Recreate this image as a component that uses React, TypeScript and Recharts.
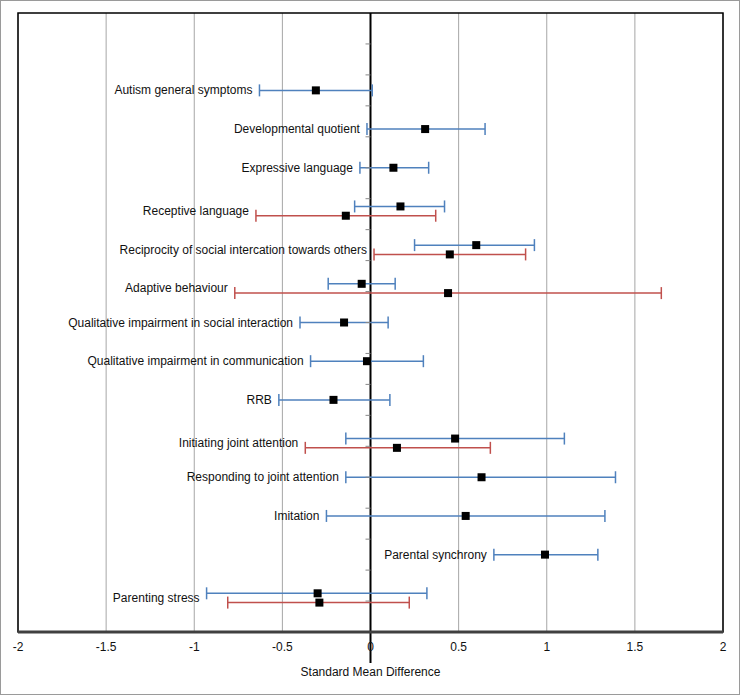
import React from 'react';
import {
  ComposedChart,
  Scatter,
  ErrorBar,
  XAxis,
  YAxis,
  CartesianGrid,
  ReferenceLine,
  ReferenceArea,
} from 'recharts';

// outcome rows, top to bottom
const categories = [
  'Autism general symptoms',
  'Developmental quotient',
  'Expressive language',
  'Receptive language',
  'Reciprocity of social intercation towards others',
  'Adaptive behaviour',
  'Qualitative impairment in social interaction',
  'Qualitative impairment in communication',
  'RRB',
  'Initiating joint attention',
  'Responding to joint attention',
  'Imitation',
  'Parental synchrony',
  'Parenting stress',
];

// blue series: SMD with lower / upper CI
const blueSmd = [-0.31, 0.31, 0.13, 0.17, 0.6, -0.05, -0.15, -0.02, -0.21, 0.48, 0.63, 0.54, 0.99, -0.3];
const blueLow = [-0.63, -0.02, -0.06, -0.09, 0.25, -0.24, -0.4, -0.34, -0.52, -0.14, -0.14, -0.25, 0.7, -0.93];
const blueHigh = [0.01, 0.65, 0.33, 0.42, 0.93, 0.14, 0.1, 0.3, 0.11, 1.1, 1.39, 1.33, 1.29, 0.32];

// red series (null where there is no estimate)
const redSmd = [null, null, null, -0.14, 0.45, 0.44, null, null, null, 0.15, null, null, null, -0.29];
const redLow = [null, null, null, -0.65, 0.02, -0.77, null, null, null, -0.37, null, null, null, -0.81];
const redHigh = [null, null, null, 0.37, 0.88, 1.65, null, null, null, 0.68, null, null, null, 0.22];

const xTicks = [-2, -1.5, -1, -0.5, 0, 0.5, 1, 1.5, 2];
const yMarks = [1, 2, 3, 4, 5, 6, 7, 8, 9, 10, 11, 12, 13, 14, 15, 16, 17, 18, 19];

const ROW_STEP = 1.25;
const RED_SHIFT = 0.3;
const rowY = (i: number) => (categories.length - i) * ROW_STEP;

const blueData = categories.map((name, i) => ({
  name,
  x: blueSmd[i],
  y: rowY(i),
  err: [blueSmd[i] - blueLow[i], blueHigh[i] - blueSmd[i]],
}));

const redData = categories
  .map((name, i) => ({ name, i }))
  .filter(({ i }) => redSmd[i] !== null)
  .map(({ name, i }) => ({
    name,
    x: redSmd[i] as number,
    y: rowY(i) - RED_SHIFT,
    err: [(redSmd[i] as number) - (redLow[i] as number), (redHigh[i] as number) - (redSmd[i] as number)],
  }));

const labelData = categories.map((name, i) => {
  const hasRed = redSmd[i] !== null;
  return {
    name,
    x: hasRed ? Math.min(blueLow[i], redLow[i] as number) : blueLow[i],
    y: hasRed ? rowY(i) - RED_SHIFT / 2 : rowY(i),
  };
});

const markData = yMarks.map((y) => ({ x: 0, y }));

const FONT = '"Liberation Sans", Arial, sans-serif';
const BLUE = '#4f81bd';
const RED = '#c0504d';

const SquareDot = (props: any) => (
  <rect x={props.cx - 4} y={props.cy - 4} width={8} height={8} fill="#000" />
);

const RowLabel = (props: any) => (
  <text
    x={props.cx - 7}
    y={props.cy}
    textAnchor="end"
    dominantBaseline="central"
    fontFamily={FONT}
    fontSize={12}
    fill="#111"
  >
    {props.payload.name}
  </text>
);

const AxisMark = (props: any) => (
  <line x1={props.cx - 5} x2={props.cx} y1={props.cy} y2={props.cy} stroke="#888" strokeWidth={1} />
);

export default function App() {
  return (
    <div style={{ position: 'absolute', left: 0, top: 0, width: 740, height: 695, background: '#fff' }}>
      <ComposedChart
        width={740}
        height={695}
        margin={{ top: 13, right: 17, left: 18, bottom: 0 }}
      >
        <CartesianGrid horizontal={false} stroke="#a6a6a6" strokeWidth={1} />
        <XAxis
          type="number"
          dataKey="x"
          domain={[-2, 2]}
          ticks={xTicks}
          allowDataOverflow
          height={63}
          tickSize={0}
          tickMargin={10}
          axisLine={{ stroke: '#404040', strokeWidth: 3 }}
          tick={{ fill: '#111', fontSize: 12, fontFamily: FONT }}
          label={{
            value: 'Standard Mean Difference',
            position: 'insideBottom',
            offset: 19,
            style: { fill: '#111', fontSize: 12, fontFamily: FONT },
          }}
        />
        <YAxis type="number" dataKey="y" domain={[0, 20]} hide allowDataOverflow />
        <ReferenceArea
          x1={-2}
          x2={2}
          y1={0}
          y2={20}
          fill="none"
          stroke="#000"
          strokeWidth={1.5}
          ifOverflow="visible"
        />
        <ReferenceLine
          segment={[{ x: 0, y: 20 }, { x: 0, y: -1 }]}
          stroke="#000"
          strokeWidth={2}
          ifOverflow="visible"
        />
        <Scatter data={markData} shape={AxisMark} isAnimationActive={false} />
        <Scatter data={blueData} shape={SquareDot} isAnimationActive={false}>
          <ErrorBar dataKey="err" direction="x" stroke={BLUE} strokeWidth={1.5} width={6} />
        </Scatter>
        <Scatter data={redData} shape={SquareDot} isAnimationActive={false}>
          <ErrorBar dataKey="err" direction="x" stroke={RED} strokeWidth={1.5} width={6} />
        </Scatter>
        <Scatter data={labelData} shape={RowLabel} isAnimationActive={false} />
      </ComposedChart>
      <div
        style={{
          position: 'absolute',
          inset: 0,
          border: '1px solid #9a9a9a',
          boxSizing: 'border-box',
          pointerEvents: 'none',
        }}
      />
    </div>
  );
}
